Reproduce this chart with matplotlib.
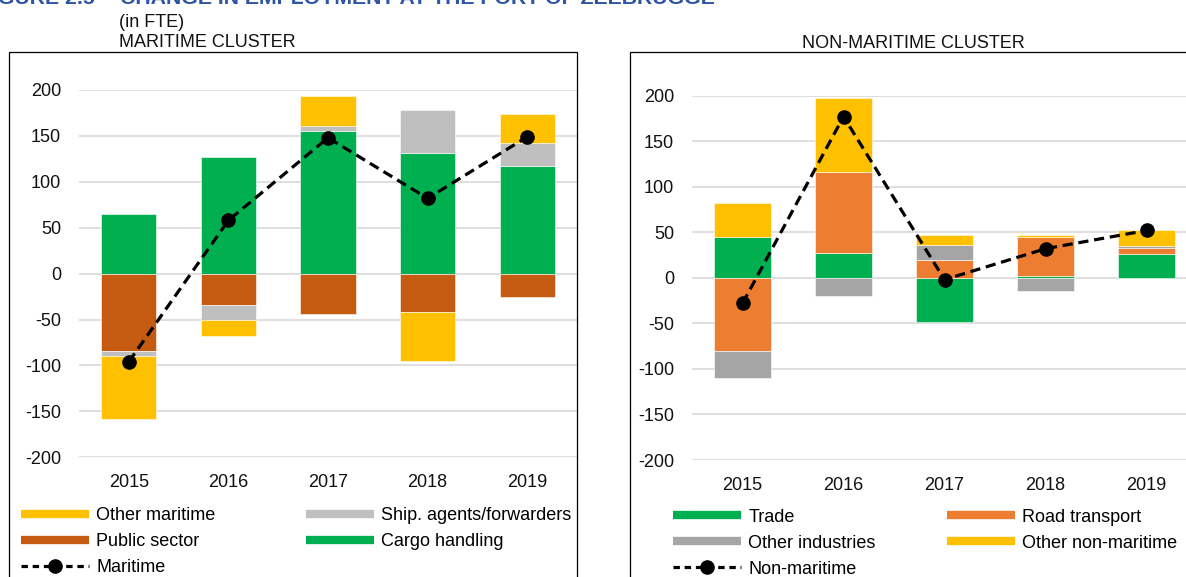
import matplotlib
matplotlib.use("Agg")
import matplotlib.pyplot as plt
from matplotlib.lines import Line2D
from matplotlib.patches import Rectangle
import numpy as np

plt.rcParams['font.family'] = ['Liberation Sans', 'DejaVu Sans']

years = ['2015', '2016', '2017', '2018', '2019']
y_ticks = [-200, -150, -100, -50, 0, 50, 100, 150, 200]

# Maritime cluster (change in FTE)
cargo_handling = [65, 127, 155, 131, 117]
public_sector = [-84, -34, -44, -42, -25]
ship_agents = [-6, -16, 6, 47, 25]
other_maritime = [-68, -18, 32, -53, 32]
maritime_total = [-96, 58, 148, 82, 149]

# Non-maritime cluster (change in FTE)
trade = [45, 27, -49, 2, 26]
road_transport = [-80, 89, 20, 43, 7]
other_industries = [-30, -20, 16, -14, 2]
other_non_maritime = [37, 81, 11, 2, 17]
non_maritime_total = [-28, 177, -2, 32, 52]

C_GREEN = '#00B050'
C_PUBLIC = '#C55A11'
C_SHIP = '#BFBFBF'
C_YELLOW = '#FFC000'
C_ROAD = '#ED7D31'
C_OTHIND = '#A5A5A5'
TITLE_BLUE = '#2E55A4'

W, H = 1186, 577
FS = 13

fig = plt.figure(figsize=(W / 100, H / 100), dpi=100)


def fx(px):
    return px / W


def fy(py):
    return 1 - py / H


def stacked(ax, series, colors, labels, total, total_label):
    x = np.arange(len(years))
    pos = np.zeros(len(years))
    neg = np.zeros(len(years))
    handles = {}
    for vals, col, lab in zip(series, colors, labels):
        v = np.array(vals, dtype=float)
        base = np.where(v >= 0, pos, neg)
        ax.bar(x, v, bottom=base, width=0.556, color=col, edgecolor='white',
               linewidth=0.4, zorder=2)
        pos = np.where(v >= 0, pos + v, pos)
        neg = np.where(v < 0, neg + v, neg)
        handles[lab] = Line2D([], [], color=col, lw=6, solid_capstyle='butt')
    ax.plot(x, total, color='black', lw=2.3, ls=(0, (3.2, 1.8)), marker='o',
            markersize=9.5, zorder=4)
    handles[total_label] = Line2D([], [], color='black', lw=2.3,
                                  ls=(0, (2.0, 1.5)), marker='o', markersize=9.5)
    ax.set_xlim(-0.5, len(years) - 0.5)
    ax.set_ylim(-200, 200)
    ax.set_xticks(x)
    ax.set_xticklabels(years)
    ax.set_yticks(y_ticks)
    ax.set_yticklabels([str(t) for t in y_ticks])
    ax.tick_params(axis='both', length=0, labelsize=FS, colors='#111111')
    ax.tick_params(axis='y', pad=13)
    ax.tick_params(axis='x', pad=12)
    for s in ax.spines.values():
        s.set_visible(False)
    ax.grid(axis='y', color='#D9D9D9', lw=1.2, zorder=0)
    ax.set_axisbelow(True)
    ax.patch.set_alpha(0)
    return handles


# Left: maritime
ax1 = fig.add_axes([fx(79), fy(457.3), fx(577 - 79), (457.3 - 90) / H])
h1 = stacked(ax1, [cargo_handling, public_sector, ship_agents, other_maritime],
             [C_GREEN, C_PUBLIC, C_SHIP, C_YELLOW],
             ['Cargo handling', 'Public sector', 'Ship. agents/forwarders', 'Other maritime'],
             maritime_total, 'Maritime')

# Right: non-maritime
ax2 = fig.add_axes([fx(692), fy(460), fx(505), (460 - 95.7) / H])
h2 = stacked(ax2, [trade, road_transport, other_industries, other_non_maritime],
             [C_GREEN, C_ROAD, C_OTHIND, C_YELLOW],
             ['Trade', 'Road transport', 'Other industries', 'Other non-maritime'],
             non_maritime_total, 'Non-maritime')

# Boxes around charts
fig.add_artist(Rectangle((fx(9), fy(600)), fx(577 - 9), (600 - 52.3) / H,
                         transform=fig.transFigure, fill=False,
                         edgecolor='black', lw=0.9))
fig.add_artist(Rectangle((fx(630), fy(600)), fx(1197 - 630), (600 - 52.3) / H,
                         transform=fig.transFigure, fill=False,
                         edgecolor='black', lw=0.9))

# Legends
order1 = ['Other maritime', 'Public sector', 'Maritime',
          'Ship. agents/forwarders', 'Cargo handling']
fig.legend([h1[k] for k in order1], order1, loc='upper left',
           bbox_to_anchor=(fx(21), fy(507)), bbox_transform=fig.transFigure,
           ncol=2, frameon=False, borderpad=0, borderaxespad=0,
           handlelength=3.78, handletextpad=0.39, columnspacing=5.0,
           labelspacing=0.5, fontsize=FS, numpoints=1)

order2 = ['Trade', 'Other industries', 'Non-maritime',
          'Road transport', 'Other non-maritime']
fig.legend([h2[k] for k in order2], order2, loc='upper left',
           bbox_to_anchor=(fx(673), fy(508.5)), bbox_transform=fig.transFigure,
           ncol=2, frameon=False, borderpad=0, borderaxespad=0,
           handlelength=3.78, handletextpad=0.39, columnspacing=3.95,
           labelspacing=0.5, fontsize=FS, numpoints=1)

# Titles (the figure title is partly cut off at the top, as in the source)
fig.text(fx(95), fy(4), 'FIGURE 2.5', ha='right', va='baseline',
         fontsize=15.3, fontweight='bold', color=TITLE_BLUE)
fig.text(fx(120), fy(4), 'CHANGE IN EMPLOYMENT AT THE PORT OF ZEEBRUGGE',
         ha='left', va='baseline', fontsize=15.3, fontweight='bold', color=TITLE_BLUE)
fig.text(fx(119), fy(26.7), '(in FTE)', ha='left', va='baseline', fontsize=FS,
         color='#111111')
fig.text(fx(119), fy(47), 'MARITIME CLUSTER', ha='left', va='baseline',
         fontsize=FS, color='#111111')
fig.text(fx(913), fy(47.5), 'NON-MARITIME CLUSTER', ha='center', va='baseline',
         fontsize=FS, color='#111111')

fig.savefig('out.png', dpi=100)
